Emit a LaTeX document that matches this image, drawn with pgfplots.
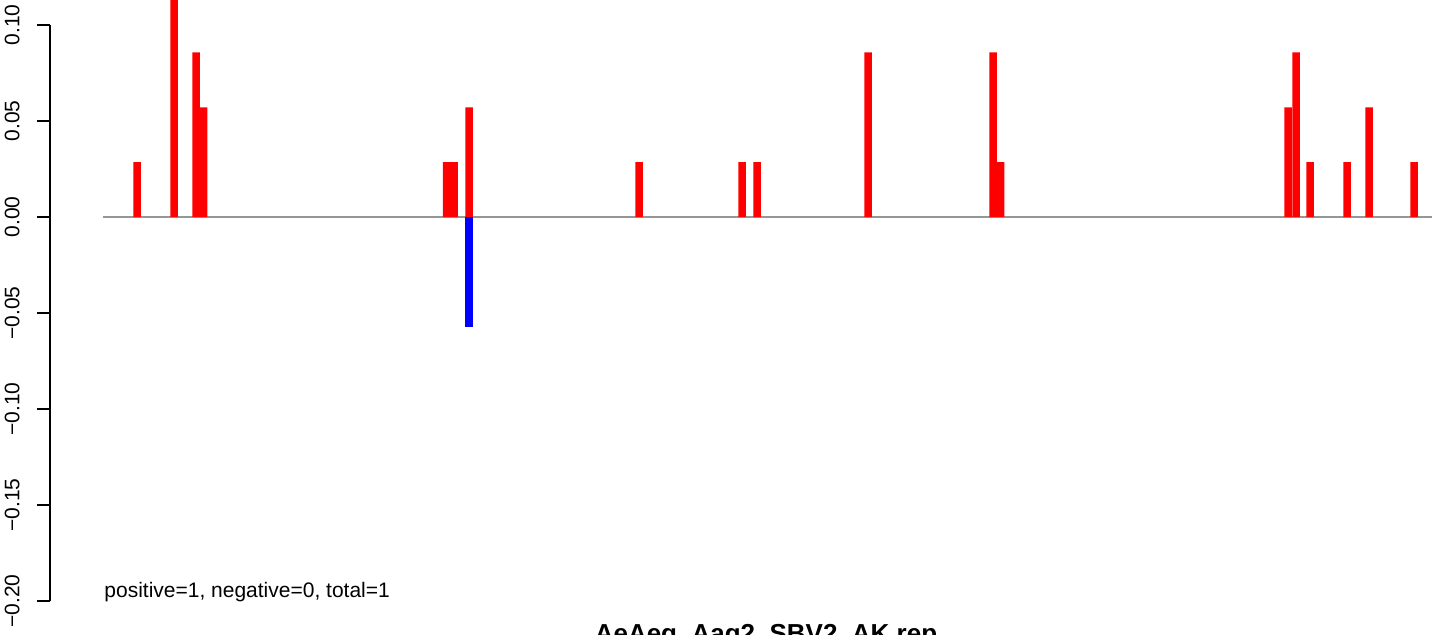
\documentclass[border=0pt]{standalone}
\usepackage{fontspec}
\setmainfont{Liberation Sans}
\usepackage{pgfplots}
\pgfplotsset{compat=1.18}
\definecolor{zerogray}{RGB}{150,150,150}
\begin{document}
\begin{tikzpicture}[x=1pt,y=1pt]
\useasboundingbox (0,0) rectangle (722,317);
\clip (0,0) rectangle (722,317);
\begin{axis}[
  at={(25pt,16.5pt)}, anchor=south west,
  scale only axis, width=697pt, height=288pt,
  xmin=50, xmax=1444, ymin=-0.20, ymax=0.10,
  clip=false,
  axis x line=none,
  axis y line=left,
  axis line style={-, line width=1pt, black},
  ytick={-0.2,-0.15,-0.1,-0.05,0,0.05,0.1},
  yticklabels={−0.20,−0.15,−0.10,−0.05,0.00,0.05,0.10},
  tick align=outside, major tick length=6.5pt,
  tick style={line width=1pt, black},
  yticklabel style={xshift=-8.5pt, rotate=90, anchor=south, inner sep=0pt, font=\fontsize{10.5}{12}\selectfont},
]
\addplot[zerogray, line width=0.8pt] coordinates {(103,0) (1432,0)};
\addplot[ybar, bar shift=0pt, bar width=3.75pt, fill=red, draw=none] coordinates {
(137,0.028571) (174,0.114286) (196,0.085714) (203.5,0.057143) (446.5,0.028571) (454,0.028571) (469,0.057143) (639,0.028571) (742,0.028571) (757,0.028571) (868,0.085714) (993,0.085714) (1000.5,0.028571) (1288,0.057143) (1296,0.085714) (1310,0.028571) (1347,0.028571) (1369,0.057143) (1414,0.028571)};
\addplot[ybar, bar shift=0pt, bar width=3.75pt, fill=blue, draw=none] coordinates {(469,-0.057143)};
\end{axis}
\node[anchor=base west, inner sep=0pt, font=\fontsize{10.5}{12}\selectfont] at (52,18.5) {positive=1, negative=0, total=1};
\node[anchor=base, inner sep=0pt, font=\bfseries\fontsize{13}{15}\selectfont] at (383,-4) {AeAeg\_Aag2\_SBV2\_AK.rep};
\end{tikzpicture}
\end{document}
